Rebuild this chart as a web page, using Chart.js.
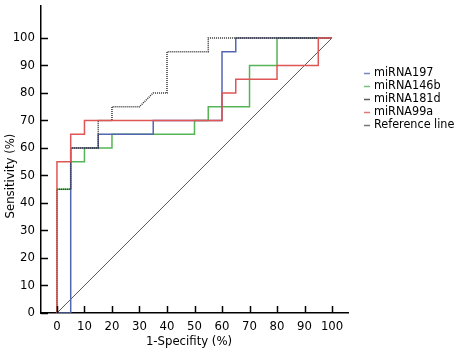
<!DOCTYPE html>
<html>
<head>
<meta charset="utf-8">
<script src="https://cdn.jsdelivr.net/npm/chart.js@4/dist/chart.umd.min.js"></script>
<style>
html,body{margin:0;padding:0;background:#fff;}
#wrap{width:459px;height:356px;position:relative;}
</style>
</head>
<body>
<div id="wrap"><canvas id="c" width="459" height="356"></canvas></div>
<script>
// ---- data (1-specificity %, sensitivity %) ----
const seriesNames = ['miRNA197','miRNA146b','miRNA181d','miRNA99a','Reference line'];
const fpr197  = [0,5,5,15,15,35,35,60,60,65,65,100];
const tpr197  = [0,0,60,60,65,65,70,70,95,95,100,100];
const fpr146b = [0,0,5,5,10,10,20,20,50,50,55,55,70,70,80,80,100];
const tpr146b = [0,45,45,55,55,60,60,65,65,70,70,75,75,90,90,100,100];
const fpr181d = [0,0,5,5,15,15,20,20,30,35,40,40,55,55,100];
const tpr181d = [0,45,45,60,60,70,70,75,75,80,80,95,95,100,100];
const fpr99a  = [0,0,5,5,10,10,60,60,65,65,80,80,95,95,100];
const tpr99a  = [0,55,55,65,65,70,70,80,80,85,85,90,90,100,100];
const fprRef  = [0,100];
const tprRef  = [0,100];
const tickValues = [0,10,20,30,40,50,60,70,80,90,100];

const FONT = "'DejaVu Sans Condensed','DejaVu Sans',sans-serif";
const pts = (xs, ys) => xs.map((x, i) => ({x: x, y: ys[i]}));

const colors = ['#5566b0','#55b555','#333333','#e05555','#555555'];

const datasets = [
  {label: seriesNames[0], data: pts(fpr197, tpr197), borderColor: colors[0], borderWidth: 1.5, order: 2},
  {label: seriesNames[1], data: pts(fpr146b, tpr146b), borderColor: colors[1], borderWidth: 1.5, order: 3},
  {label: seriesNames[2], data: pts(fpr181d, tpr181d), borderColor: colors[2], borderWidth: 1.5, borderDash: [1, 1], order: 1},
  {label: seriesNames[3], data: pts(fpr99a, tpr99a), borderColor: colors[3], borderWidth: 1.5, order: 0},
  {label: seriesNames[4], data: pts(fprRef, tprRef), borderColor: colors[4], borderWidth: 1, order: 4}
].map(d => Object.assign({pointRadius: 0, fill: false, tension: 0}, d));

const extras = {
  id: 'extras',
  afterDraw(chart) {
    const ctx = chart.ctx;
    const xs = chart.scales.x, ys = chart.scales.y;
    ctx.save();
    // inward tick marks
    ctx.strokeStyle = '#000';
    ctx.lineWidth = 1.5;
    xs.ticks.forEach(t => {
      const px = Math.round(xs.getPixelForValue(t.value)) + 0.5;
      ctx.beginPath(); ctx.moveTo(px, xs.top); ctx.lineTo(px, xs.top - 7); ctx.stroke();
    });
    ys.ticks.forEach(t => {
      const py = Math.round(ys.getPixelForValue(t.value)) + 0.5;
      ctx.beginPath(); ctx.moveTo(ys.right, py); ctx.lineTo(ys.right + 7, py); ctx.stroke();
    });
    // axis titles
    ctx.fillStyle = '#000';
    ctx.font = '13px ' + FONT;
    ctx.textAlign = 'center';
    ctx.textBaseline = 'middle';
    ctx.fillText('1-Specifity (%)', 189, 342);
    ctx.save();
    ctx.translate(11, 176);
    ctx.rotate(-Math.PI / 2);
    ctx.fillText('Sensitivity (%)', 0, 0);
    ctx.restore();
    // legend
    ctx.font = '12.5px ' + FONT;
    ctx.textAlign = 'left';
    chart.data.datasets.forEach((d, i) => {
      const y = 72.7 + i * 13.1;
      ctx.strokeStyle = d.borderColor;
      ctx.globalAlpha = 0.8;
      ctx.lineWidth = 1.5;
      ctx.setLineDash([]);
      ctx.beginPath(); ctx.moveTo(364, Math.round(y) + 0.5); ctx.lineTo(370, Math.round(y) + 0.5); ctx.stroke();
      ctx.globalAlpha = 1;
      ctx.fillText(d.label, 374, y);
    });
    ctx.restore();
  }
};

new Chart(document.getElementById('c'), {
  type: 'line',
  data: {datasets: datasets},
  options: {
    responsive: false,
    animation: false,
    devicePixelRatio: 1,
    layout: {padding: {top: 6, right: 111, left: 0, bottom: 0}},
    plugins: {legend: {display: false}, tooltip: {enabled: false}},
    scales: {
      x: {
        type: 'linear', min: -5.8, max: 105.8,
        afterBuildTicks: s => { s.ticks = tickValues.map(v => ({value: v})); },
        afterFit: s => { s.height = 43; s.paddingLeft = 0; s.paddingRight = 0; },
        grid: {display: true, drawOnChartArea: false, drawTicks: false},
        border: {display: true, color: '#000', width: 1.5},
        ticks: {color: '#000', font: {family: FONT, size: 13}, padding: 6, maxRotation: 0, autoSkip: false}
      },
      y: {
        type: 'linear', min: 0, max: 111.6,
        afterBuildTicks: s => { s.ticks = tickValues.map(v => ({value: v})); },
        afterFit: s => { s.width = 41; s.paddingTop = 0; s.paddingBottom = 0; },
        grid: {display: true, drawOnChartArea: false, drawTicks: false},
        border: {display: true, color: '#000', width: 1.5},
        ticks: {color: '#000', font: {family: FONT, size: 13}, padding: 6, autoSkip: false}
      }
    }
  },
  plugins: [extras]
});
</script>
</body>
</html>
